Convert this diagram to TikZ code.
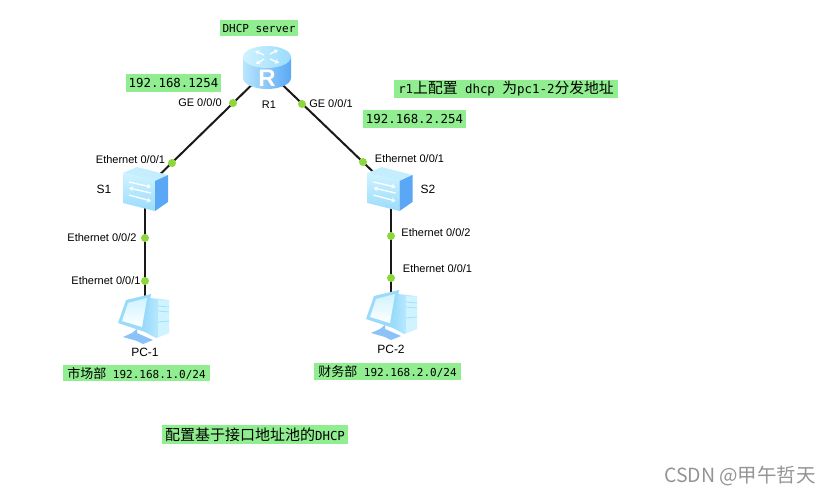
\documentclass[tikz,border=0pt]{standalone}
\usepackage{fontspec}
\setsansfont{Liberation Sans}
\setmonofont{DejaVu Sans Mono}
\newfontfamily\cjk{Noto Sans CJK SC}
\usetikzlibrary{positioning,arrows.meta}

\definecolor{notegreen}{HTML}{90EE90}
\definecolor{portgreen}{HTML}{8CD83C}
\definecolor{icondeep}{HTML}{5AA8F5}
\definecolor{iconmid}{HTML}{9ADBFB}
\definecolor{iconpale}{HTML}{CFF3FF}

\tikzset{
  device/.style={inner sep=0pt, minimum size=30pt},
  link/.style={draw=black!90, line width=2pt},
  port/.style={circle, fill=portgreen, inner sep=0pt, minimum size=8pt},
  tag/.style={inner sep=0pt, font=\sffamily\fontsize{11}{13}\selectfont},
  note/.style={fill=notegreen, inner sep=0pt, font=\ttfamily\fontsize{12.4}{14}\selectfont},
  whitearrow/.style={draw=white, line width=1.3pt, -{Stealth[length=4pt,width=5pt]}},
  routericon/.pic={
    \path[left color=iconmid!70!white, right color=icondeep] (-24,-13) -- (-24,8)
      arc[start angle=180, end angle=0, x radius=24, y radius=11] -- (24,-13) -- cycle;
    \path[left color=iconpale, right color=iconmid] (0,-13) ellipse [x radius=24, y radius=11];
    \draw[whitearrow] (-3,-15) -- (-12,-19);
    \draw[whitearrow] (3,-16) -- (11,-20);
    \draw[whitearrow] (-3,-11) -- (-11,-6);
    \draw[whitearrow] (3,-11) -- (12,-7);
    \node[inner sep=0pt, text=white, font=\sffamily\bfseries\fontsize{24}{24}\selectfont] (rlabel) at (0,8) {R};
  },
  switchicon/.pic={
    \path[fill=iconpale!80!iconmid] (-22,-16) -- (-8,-22) -- (23,-14) -- (10,-8) -- cycle;
    \path[top color=iconpale, bottom color=iconmid] (-22,-16) -- (10,-8) -- (10,22) -- (-22,14) -- cycle;
    \path[fill=icondeep] (10,-8) -- (23,-14) -- (23,13) -- (10,22) -- cycle;
    \draw[whitearrow] (-16,-7) -- (6,-2);
    \draw[whitearrow] (6,4) -- (-16,-1);
    \draw[whitearrow] (-16,6) -- (6,12);
  },
  pcicon/.pic={
    % tower behind the screen
    \path[left color=iconmid, right color=iconpale] (6,-21) -- (25,-19) -- (25,14) -- (12,19) -- (1,13) -- cycle;
    \path[fill=iconpale] (14,-19) -- (25,-18) -- (25,14) -- (14,18) -- cycle;
    \draw[iconmid, line width=.6pt] (14,-13) -- (25,-12) (14,-8) -- (25,-7) (14,3) -- (25,2);
    % stand
    \path[fill=icondeep!70!white] (-21,18) -- (-12,14) -- (-7,10) -- (-7,14) -- (9,21) -- (-1,25) -- (-7,22) -- cycle;
    % screen
    \path[fill=iconmid] (-18,-19) -- (7,-25) -- (1,13) -- (-26,4) -- cycle;
    \path[top color=iconpale, bottom color=white] (-16,-16) -- (3,-21) -- (-2,8) -- (-22,2) -- cycle;
  }
}

\begin{document}
\begin{tikzpicture}[x=1pt, y=-1pt, on grid]
  \useasboundingbox (0,0) rectangle (830,495);
  \node[device] (r1) at (267,70) {};
  \node[device] (s1) [below left=119pt and 122pt of r1] {};
  \node[device] (s2) [below right=119pt and 124pt of r1] {};
  \node[device] (pc1) [below=130pt of s1] {};
  \node[device] (pc2) [below=126pt of s2] {};

  \path[link]
    (r1) edge (s1)
    (r1) edge (s2)
    (s1) edge (pc1)
    (s2) edge (pc2);

  \pic at (r1) {routericon};
  \pic at (s1) {switchicon};
  \pic[xshift=-1.5pt] at (s2) {switchicon};
  \pic[xshift=-1pt] at (pc1) {pcicon};
  \pic[xshift=1pt] at (pc2) {pcicon};

  \node[port] (p1) [below left=33pt and 34pt of r1] {};
  \node[port] (p2) [above right=26pt and 27pt of s1] {};
  \node[port] (p3) [below right=34pt and 35pt of r1] {};
  \node[port] (p4) [above left=27pt and 28pt of s2] {};
  \node[port] (p5) [below=49pt of s1] {};
  \node[port] (p6) [above=38pt of pc1] {};
  \node[port] (p7) [below=47pt of s2] {};
  \node[port] (p8) [above=37pt of pc2] {};

  \node[tag] (t1) [left=33pt of p1] {GE 0/0/0};
  \node[tag] (t2) [right=29pt of p3] {GE 0/0/1};
  \node[tag] (t3) [above left=3pt and 41.5pt of p2] {Ethernet 0/0/1};
  \node[tag] (t4) [left=43pt of p5] {Ethernet 0/0/2};
  \node[tag] (t5) [left=39pt of p6] {Ethernet 0/0/1};
  \node[tag] (t6) [above right=3pt and 46.5pt of p4] {Ethernet 0/0/1};
  \node[tag] (t7) [above right=3pt and 45pt of p7] {Ethernet 0/0/2};
  \node[tag] (t8) [above right=9pt and 46.5pt of p8] {Ethernet 0/0/1};
  \node[tag] (nr1) [below right=35pt and 2pt of r1] {R1};
  \node[tag, font=\sffamily\fontsize{12}{14}\selectfont] (ns1) [left=41pt of s1] {S1};
  \node[tag, font=\sffamily\fontsize{12}{14}\selectfont] (ns2) [right=37pt of s2] {S2};
  \node[tag, font=\sffamily\fontsize{12}{14}\selectfont] (npc1) [below=33pt of pc1] {PC-1};
  \node[tag, font=\sffamily\fontsize{12}{14}\selectfont] (npc2) [below=34pt of pc2] {PC-2};

  \node[note, minimum width=78pt, minimum height=16pt, font=\ttfamily\fontsize{11}{13}\selectfont] (server) [above left=42pt and 8pt of r1] {DHCP server};
  \node[note, minimum width=95pt, minimum height=18pt] (gw1) [below left=13pt and 93.5pt of r1] {192.168.1254};
  \node[note, minimum width=224pt, minimum height=18pt] (task) [below right=19pt and 239pt of r1] {r1{\cjk\fontsize{14.8}{14}\selectfont 上配置} dhcp {\cjk\fontsize{14.8}{14}\selectfont 为}pc1-2{\cjk\fontsize{14.8}{14}\selectfont 分发地址}};
  \node[note, minimum width=103pt, minimum height=18pt] (gw2) [below left=30pt and 91.5pt of task] {192.168.2.254};
  \node[note, minimum width=147pt, minimum height=16pt, font=\ttfamily\fontsize{11}{13}\selectfont] (net1) [below left=54pt and 8.5pt of pc1] {{\cjk\fontsize{13}{14}\selectfont 市场部} 192.168.1.0/24};
  \node[note, minimum width=147pt, minimum height=17pt, font=\ttfamily\fontsize{11}{13}\selectfont] (net2) [below left=56.5pt and 3.5pt of pc2] {{\cjk\fontsize{13}{14}\selectfont 财务部} 192.168.2.0/24};
  \node[note, minimum width=186pt, minimum height=19pt] (title) [below right=115.5pt and 110pt of pc1] {{\cjk\fontsize{15}{15}\selectfont 配置基于接口地址池的}DHCP};

  \node[inner sep=0pt, text=black!42, font=\cjk\fontsize{19.5}{21}\selectfont] (mark) [below right=161pt and 349pt of pc2] {CSDN @甲午哲天};
\end{tikzpicture}
\end{document}
